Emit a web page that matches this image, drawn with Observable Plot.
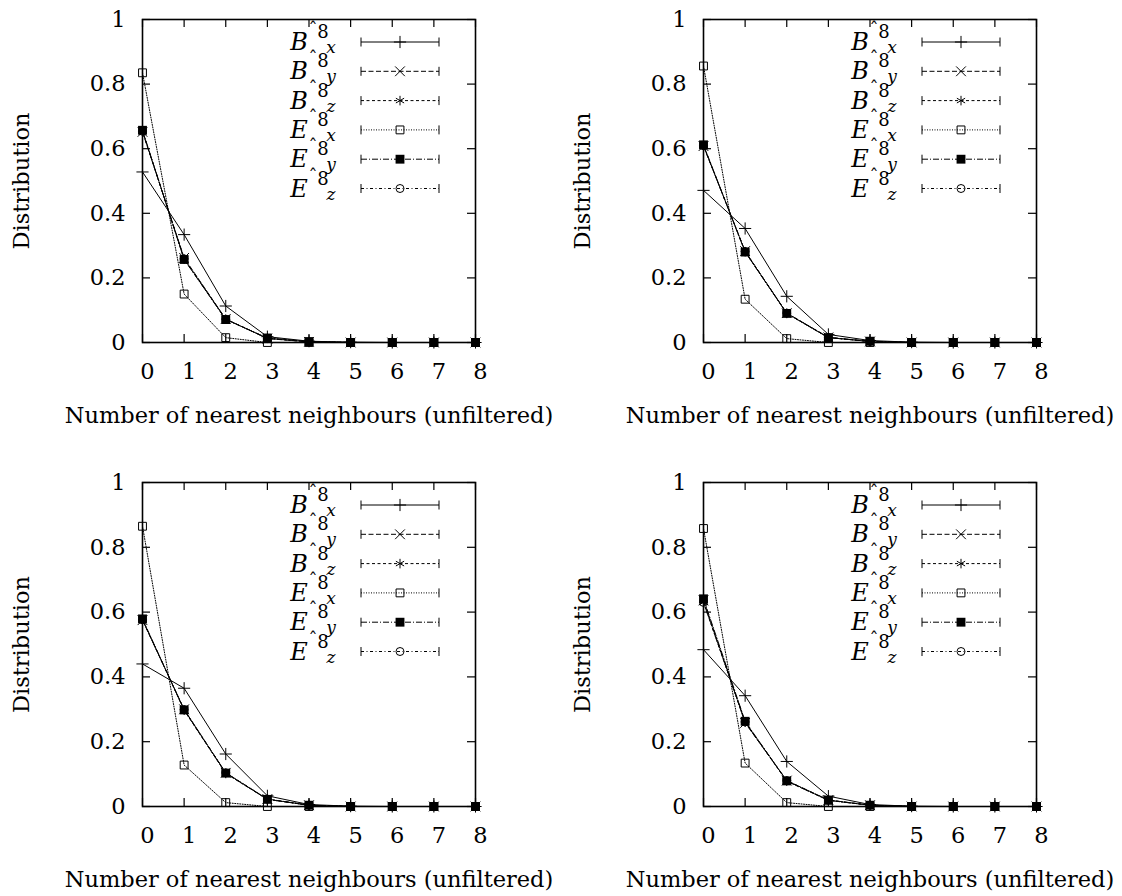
<!DOCTYPE html>
<html>
<head>
<meta charset="utf-8">
<script src="https://cdn.jsdelivr.net/npm/d3@7"></script>
<script src="https://cdn.jsdelivr.net/npm/@observablehq/plot@0.6"></script>
<style>
  body { margin: 0; background: #fff; }
  #grid { position: relative; width: 1122px; height: 896px; background: #fff; }
  .panel { position: absolute; }
</style>
</head>
<body>
<div id="grid"></div>
<script>
// ---------- data ----------
const xValues = [0, 1, 2, 3, 4, 5, 6, 7, 8];
const xTicks = [0, 1, 2, 3, 4, 5, 6, 7, 8];
const yTicks = [0, 0.2, 0.4, 0.6, 0.8, 1];
const yTickLabels = ["0", "0.2", "0.4", "0.6", "0.8", "1"];
const seriesKeys = ["Bx", "By", "Bz", "Ex", "Ey", "Ez"];
const legendLetters = ["B", "B", "B", "E", "E", "E"];
const legendSubs = ["x", "y", "z", "x", "y", "z"];
const legendSup = "8";
const xLabel = "Number of nearest neighbours (unfiltered)";
const yLabel = "Distribution";

// panel A (top left)
const a_Bx = [0.528, 0.334, 0.113, 0.018, 0.004, 0.001, 0, 0, 0];
const a_By = [0.652, 0.262, 0.073, 0.012, 0.002, 0, 0, 0, 0];
const a_Bz = [0.655, 0.258, 0.072, 0.013, 0.002, 0, 0, 0, 0];
const a_Ex = [0.835, 0.150, 0.015, 0.000, 0, 0, 0, 0, 0];
const a_Ey = [0.657, 0.257, 0.071, 0.014, 0.003, 0, 0, 0, 0];
const a_Ez = [0.654, 0.259, 0.072, 0.013, 0.002, 0, 0, 0, 0];

// panel B (top right)
const b_Bx = [0.471, 0.353, 0.143, 0.025, 0.006, 0.001, 0, 0, 0];
const b_By = [0.608, 0.283, 0.091, 0.016, 0.003, 0, 0, 0, 0];
const b_Bz = [0.610, 0.281, 0.090, 0.015, 0.003, 0, 0, 0, 0];
const b_Ex = [0.856, 0.134, 0.012, 0.000, 0, 0, 0, 0, 0];
const b_Ey = [0.612, 0.280, 0.090, 0.015, 0.004, 0, 0, 0, 0];
const b_Ez = [0.609, 0.282, 0.091, 0.016, 0.003, 0, 0, 0, 0];

// panel C (bottom left)
const c_Bx = [0.440, 0.365, 0.162, 0.033, 0.006, 0.001, 0, 0, 0];
const c_By = [0.575, 0.300, 0.104, 0.023, 0.004, 0, 0, 0, 0];
const c_Bz = [0.577, 0.297, 0.102, 0.022, 0.004, 0, 0, 0, 0];
const c_Ex = [0.865, 0.128, 0.012, 0.000, 0, 0, 0, 0, 0];
const c_Ey = [0.579, 0.298, 0.103, 0.022, 0.004, 0, 0, 0, 0];
const c_Ez = [0.576, 0.299, 0.104, 0.023, 0.004, 0, 0, 0, 0];

// panel D (bottom right)
const d_Bx = [0.484, 0.342, 0.139, 0.032, 0.006, 0.001, 0, 0, 0];
const d_By = [0.636, 0.258, 0.080, 0.020, 0.004, 0, 0, 0, 0];
const d_Bz = [0.630, 0.260, 0.078, 0.019, 0.004, 0, 0, 0, 0];
const d_Ex = [0.858, 0.134, 0.012, 0.000, 0, 0, 0, 0, 0];
const d_Ey = [0.641, 0.263, 0.079, 0.019, 0.004, 0, 0, 0, 0];
const d_Ez = [0.630, 0.261, 0.080, 0.020, 0.004, 0, 0, 0, 0];

// ---------- styles ----------
const FONT = "DejaVu Serif, serif";
const FS = 22.5;
const STYLE = {
  Bx: {dash: null,          symbol: "plus",     d3sym: d3.symbolPlus,     r: 4,   fill: "none"},
  By: {dash: "5,2.5",       symbol: "times",    d3sym: d3.symbolTimes,    r: 4.5, fill: "none"},
  Bz: {dash: "3,2.5",       symbol: "asterisk", d3sym: d3.symbolAsterisk, r: 4.5, fill: "none"},
  Ex: {dash: "1,1.5",       symbol: "square2",  d3sym: d3.symbolSquare2,  r: 5,   fill: "none"},
  Ey: {dash: "6,2,1,2",     symbol: "square",   d3sym: d3.symbolSquare,   r: 5,   fill: "black"},
  Ez: {dash: "3,2.5,1,2.5", symbol: "circle",   d3sym: d3.symbolCircle,   r: 4,   fill: "none"}
};

const panels = [
  {series: {Bx: a_Bx, By: a_By, Bz: a_Bz, Ex: a_Ex, Ey: a_Ey, Ez: a_Ez}, left: 0,   top: 0,   mt: 19, mb: 106},
  {series: {Bx: b_Bx, By: b_By, Bz: b_Bz, Ex: b_Ex, Ey: b_Ey, Ez: b_Ez}, left: 561, top: 0,   mt: 19, mb: 106},
  {series: {Bx: c_Bx, By: c_By, Bz: c_Bz, Ex: c_Ex, Ey: c_Ey, Ez: c_Ez}, left: 0,   top: 448, mt: 34, mb: 90},
  {series: {Bx: d_Bx, By: d_By, Bz: d_Bz, Ex: d_Ex, Ey: d_Ey, Ez: d_Ez}, left: 561, top: 448, mt: 34, mb: 90}
];

const W = 561, H = 448, ML = 142, MR = 86;

function addLegend(svg, ml, mt) {
  const g = d3.select(svg).append("g")
    .attr("transform", `translate(${ml},${mt})`)
    .style("font-family", FONT);
  seriesKeys.forEach((k, i) => {
    const y = 23 + i * 29.3;
    const st = STYLE[k];
    const lg = g.append("g").attr("stroke", "black").attr("stroke-width", 1).attr("fill", "none");
    const p = lg.append("path").attr("d", `M219,${y}H297`);
    if (st.dash) p.attr("stroke-dasharray", st.dash);
    lg.append("path").attr("d", `M219,${y - 4.5}V${y + 4.5}M297,${y - 4.5}V${y + 4.5}`);
    g.append("path")
      .attr("transform", `translate(258,${y})`)
      .attr("d", d3.symbol(st.d3sym, st.r * st.r * Math.PI)())
      .attr("fill", st.fill)
      .attr("stroke", st.fill === "black" ? "none" : "black")
      .attr("stroke-width", 1);
    // label: hat-letter with superscript 8 and subscript
    g.append("text").attr("x", 157).attr("y", y + 8)
      .style("font-family", FONT).style("font-size", "24px").style("font-style", "italic")
      .text(legendLetters[i]);
    g.append("text").attr("x", 171).attr("y", y - 6).attr("text-anchor", "middle")
      .style("font-family", FONT).style("font-size", "18px")
      .text("\u02C6");
    g.append("text").attr("x", 181).attr("y", y - 4)
      .style("font-family", FONT).style("font-size", "18px")
      .text(legendSup);
    g.append("text").attr("x", 189).attr("y", y + 11)
      .style("font-family", FONT).style("font-size", "17px").style("font-style", "italic")
      .text(legendSubs[i]);
  });
}

const grid = document.getElementById("grid");
panels.forEach(pn => {
  const plotW = W - ML - MR;
  const plotH = H - pn.mt - pn.mb;
  const marks = [];
  seriesKeys.forEach(k => {
    const rows = xValues.map((x, i) => ({x, y: pn.series[k][i]}));
    const st = STYLE[k];
    marks.push(Plot.line(rows, {x: "x", y: "y", stroke: "black", strokeWidth: 1,
      strokeDasharray: st.dash || undefined}));
    marks.push(Plot.dot(rows, {x: "x", y: "y", symbol: st.symbol, r: st.r,
      fill: st.fill, stroke: st.fill === "black" ? "none" : "black", strokeWidth: 1}));
  });
  const plot = Plot.plot({
    width: W, height: H,
    marginLeft: ML, marginRight: MR, marginTop: pn.mt, marginBottom: pn.mb,
    style: {fontFamily: FONT, background: "white", color: "black", overflow: "visible"},
    x: {domain: [0, 8]},
    y: {domain: [0, 1]},
    marks: [
      // inner ticks on all four sides
      Plot.tickY(yTicks, {y: d => d, insetRight: plotW - 8, stroke: "black", strokeWidth: 1.2}),
      Plot.tickY(yTicks, {y: d => d, insetLeft: plotW - 8, stroke: "black", strokeWidth: 1.2}),
      Plot.tickX(xTicks, {x: d => d, insetTop: plotH - 8, stroke: "black", strokeWidth: 1.2}),
      Plot.tickX(xTicks, {x: d => d, insetBottom: plotH - 8, stroke: "black", strokeWidth: 1.2}),
      Plot.axisY({ticks: yTicks, tickSize: 0, tickPadding: 17, fontSize: FS, fontFamily: FONT,
        tickFormat: d => yTickLabels[yTicks.indexOf(d)], label: null}),
      Plot.axisX({ticks: xTicks, tickSize: 0, tickPadding: 21, fontSize: FS, fontFamily: FONT, dx: 5,
        tickFormat: d => String(d), label: null}),
      Plot.text([yLabel], {text: d => d, frameAnchor: "left", dx: -121, rotate: -90,
        fontSize: FS, fontFamily: FONT, textAnchor: "middle", lineAnchor: "middle"}),
      Plot.text([xLabel], {text: d => d, frameAnchor: "bottom", dy: 80,
        fontSize: FS, fontFamily: FONT, lineAnchor: "bottom"}),
      ...marks,
      Plot.frame({stroke: "black", strokeWidth: 1.6})
    ]
  });
  addLegend(plot, ML, pn.mt);
  const holder = document.createElement("div");
  holder.className = "panel";
  holder.style.left = pn.left + "px";
  holder.style.top = pn.top + "px";
  holder.appendChild(plot);
  grid.appendChild(holder);
});
</script>
</body>
</html>
